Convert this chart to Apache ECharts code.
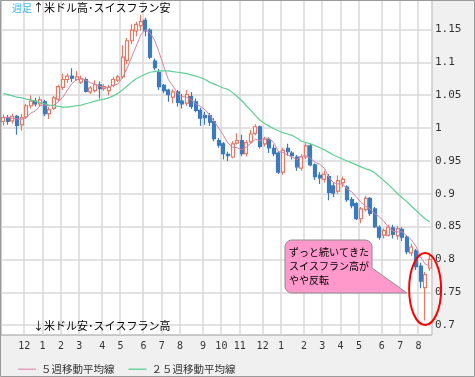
<!DOCTYPE html>
<html><head><meta charset="utf-8">
<script src="https://cdn.jsdelivr.net/npm/echarts@6/dist/echarts.min.js"></script>
<style>html,body{margin:0;padding:0;background:#f0f0f0}#c{width:475px;height:377px}</style>
</head><body><div id="c"></div>
<script>
const weeks = [
'2009-11-02','2009-11-09','2009-11-16','2009-11-23','2009-11-30','2009-12-07','2009-12-14','2009-12-21','2009-12-28',
'2010-01-04','2010-01-11','2010-01-18','2010-01-25','2010-02-01','2010-02-08','2010-02-15','2010-02-22',
'2010-03-01','2010-03-08','2010-03-15','2010-03-22','2010-03-29','2010-04-05','2010-04-12','2010-04-19','2010-04-26',
'2010-05-03','2010-05-10','2010-05-17','2010-05-24','2010-05-31','2010-06-07','2010-06-14','2010-06-21','2010-06-28',
'2010-07-05','2010-07-12','2010-07-19','2010-07-26','2010-08-02','2010-08-09','2010-08-16','2010-08-23','2010-08-30',
'2010-09-06','2010-09-13','2010-09-20','2010-09-27','2010-10-04','2010-10-11','2010-10-18','2010-10-25',
'2010-11-01','2010-11-08','2010-11-15','2010-11-22','2010-11-29','2010-12-06','2010-12-13','2010-12-20','2010-12-27',
'2011-01-03','2011-01-10','2011-01-17','2011-01-24','2011-01-31','2011-02-07','2011-02-14','2011-02-21','2011-02-28',
'2011-03-07','2011-03-14','2011-03-21','2011-03-28','2011-04-04','2011-04-11','2011-04-18','2011-04-25',
'2011-05-02','2011-05-09','2011-05-16','2011-05-23','2011-05-30','2011-06-06','2011-06-13','2011-06-20','2011-06-27',
'2011-07-04','2011-07-11','2011-07-18','2011-07-25','2011-08-01','2011-08-08','2011-08-15'];

const opens = [
1.010,1.016,1.011,1.018,1.005,1.017,1.034,1.041,1.037,1.040,
1.022,1.030,1.044,1.062,1.074,1.079,1.074,1.070,1.074,1.055,
1.057,1.066,1.060,1.057,1.065,1.073,1.078,1.103,1.133,1.148,
1.156,1.164,1.149,1.102,1.085,1.065,1.058,1.047,1.055,1.041,
1.038,1.048,1.040,1.027,1.019,1.019,1.010,0.981,0.976,0.960,
0.956,0.977,0.981,0.961,0.979,0.992,1.002,0.976,0.982,0.969,
0.962,0.933,0.969,0.962,0.956,0.939,0.956,0.973,0.944,0.928,
0.922,0.926,0.912,0.904,0.917,0.910,0.891,0.885,0.862,0.876,
0.893,0.877,0.849,0.837,0.837,0.848,0.836,0.846,0.834,0.810,
0.813,0.790,0.757,0.787];
const closes = [
1.016,1.010,1.018,1.004,1.016,1.034,1.041,1.037,1.043,1.022,
1.028,1.046,1.063,1.074,1.079,1.076,1.078,1.075,1.056,1.061,
1.066,1.060,1.063,1.062,1.074,1.078,1.108,1.133,1.149,1.158,
1.162,1.148,1.108,1.092,1.063,1.057,1.051,1.055,1.039,1.037,
1.051,1.033,1.027,1.015,1.016,1.009,0.984,0.974,0.961,0.958,
0.976,0.981,0.961,0.978,0.991,1.002,0.972,0.983,0.970,0.961,
0.933,0.966,0.964,0.958,0.941,0.956,0.973,0.944,0.926,0.924,
0.930,0.902,0.901,0.920,0.922,0.891,0.882,0.862,0.877,0.893,
0.870,0.850,0.834,0.844,0.849,0.838,0.847,0.834,0.812,0.819,
0.789,0.767,0.777,0.800];
const lows = [
1.004,1.005,1.007,0.990,0.996,1.014,1.030,1.033,1.033,1.018,
1.014,1.028,1.040,1.058,1.069,1.070,1.072,1.067,1.054,1.052,
1.054,1.045,1.057,1.050,1.062,1.070,1.075,1.097,1.128,1.140,
1.148,1.140,1.105,1.088,1.058,1.053,1.040,1.038,1.033,1.030,
1.034,1.029,1.024,1.003,1.005,1.003,0.980,0.970,0.952,0.950,
0.954,0.975,0.957,0.957,0.977,0.989,0.969,0.972,0.962,0.957,
0.930,0.929,0.958,0.952,0.935,0.935,0.953,0.942,0.921,0.915,
0.917,0.890,0.895,0.900,0.910,0.888,0.878,0.860,0.855,0.873,
0.866,0.848,0.830,0.832,0.835,0.832,0.830,0.828,0.808,0.805,
0.784,0.756,0.707,0.783];
const highs = [
1.021,1.020,1.022,1.020,1.022,1.037,1.050,1.046,1.048,1.043,
1.032,1.049,1.066,1.083,1.083,1.091,1.087,1.080,1.077,1.064,
1.073,1.071,1.067,1.066,1.078,1.081,1.126,1.137,1.158,1.162,
1.172,1.168,1.152,1.106,1.090,1.067,1.060,1.059,1.058,1.052,
1.058,1.055,1.045,1.031,1.025,1.023,1.015,0.985,0.979,0.964,
0.980,0.992,0.990,0.982,0.997,1.006,1.004,0.987,0.986,0.975,
0.965,0.970,0.976,0.965,0.959,0.960,0.977,0.976,0.946,0.933,
0.935,0.930,0.917,0.928,0.926,0.913,0.895,0.887,0.880,0.897,
0.895,0.880,0.852,0.847,0.853,0.853,0.851,0.849,0.837,0.824,
0.816,0.795,0.781,0.808];
const ma5 = [
1.017,1.016,1.015,1.014,1.013,1.016,1.023,1.026,1.034,1.035,
1.034,1.035,1.040,1.047,1.058,1.068,1.074,1.076,1.073,1.069,
1.067,1.064,1.061,1.062,1.065,1.067,1.077,1.091,1.108,1.125,
1.142,1.150,1.145,1.134,1.115,1.094,1.074,1.064,1.053,1.048,
1.047,1.043,1.037,1.033,1.028,1.020,1.010,1.000,0.989,0.977,
0.971,0.970,0.967,0.971,0.977,0.983,0.981,0.985,0.984,0.978,
0.964,0.963,0.959,0.956,0.952,0.957,0.958,0.954,0.948,0.945,
0.939,0.925,0.917,0.915,0.915,0.907,0.903,0.895,0.887,0.881,
0.877,0.870,0.865,0.858,0.849,0.843,0.842,0.842,0.836,0.830,
0.820,0.804,0.793,0.790];
const ma25 = [
1.053,1.051,1.049,1.047,1.046,1.044,1.043,1.041,1.039,1.037,
1.035,1.034,1.033,1.032,1.032,1.033,1.034,1.035,1.037,1.039,
1.041,1.043,1.044,1.046,1.049,1.053,1.058,1.064,1.070,1.075,
1.079,1.082,1.085,1.086,1.087,1.087,1.087,1.086,1.085,1.084,
1.083,1.081,1.079,1.077,1.074,1.070,1.067,1.064,1.061,1.059,
1.054,1.048,1.042,1.034,1.027,1.019,1.012,1.007,1.003,0.999,
0.996,0.993,0.991,0.989,0.985,0.980,0.978,0.976,0.973,0.970,
0.967,0.963,0.959,0.956,0.953,0.950,0.947,0.944,0.941,0.938,
0.936,0.932,0.926,0.920,0.914,0.907,0.900,0.894,0.888,0.881,
0.875,0.868,0.862,0.857];
const yTicks = [0.7,0.75,0.8,0.85,0.9,0.95,1,1.05,1.1,1.15];
const seriesNames = ['５週移動平均線','２５週移動平均線'];
const topNote = '↑米ドル高･スイスフラン安';
const bottomNote = '↓米ドル安･スイスフラン高';
const periodNote = '週足';
const calloutText = 'ずっと続いてきた\nスイスフラン高が\nやや反転';

const chart = echarts.init(document.getElementById('c'), null, {renderer:'canvas'});
const candleData = weeks.map((w,i)=>[opens[i],closes[i],lows[i],highs[i]]);
const isMonthStart = (i) => i>0 && parseInt(weeks[i].slice(8,10),10) <= 7;
const jp = '"Noto Sans CJK JP", sans-serif';

const option = {
  animation:false,
  backgroundColor:'#f0f0f0',
  textStyle:{fontFamily:'"DejaVu Sans", sans-serif'},
  grid:{left:1,right:43,top:0,bottom:42,show:true,backgroundColor:'#ffffff',borderColor:'#9a9a9a',borderWidth:1},
  xAxis:{type:'category',data:weeks,boundaryGap:true,
    axisLine:{show:false},axisTick:{show:false},
    axisLabel:{interval:(i)=>isMonthStart(i),formatter:(v)=>String(parseInt(v.slice(5,7),10)),
      fontFamily:'"DejaVu Sans Mono", monospace',fontSize:10,color:'#333',margin:6,padding:[0,4,0,0]},
    splitLine:{show:true,interval:(i)=>isMonthStart(i),lineStyle:{color:'#d9d9d9',width:1.5}}},
  yAxis:{type:'value',position:'right',min:0.685,max:1.195,
    axisLine:{show:false},axisTick:{show:false,customValues:yTicks},
    axisLabel:{customValues:yTicks,fontFamily:'"DejaVu Sans Mono", monospace',fontSize:11,color:'#333',margin:3},
    splitLine:{show:true,lineStyle:{color:'#d9d9d9',width:1.5}}},
  legend:{data:seriesNames,left:13,top:359,icon:'rect',itemWidth:18,itemHeight:1.5,itemGap:14,
    textStyle:{fontFamily:jp,fontSize:10.5,color:'#333'}},
  series:[
    {type:'candlestick',name:'USDCHF',data:candleData,barWidth:3.5,
      itemStyle:{color:'#ffffff',color0:'#3b7bbd',borderColor:'#e27a64',borderColor0:'#3b7bbd',borderWidth:1.2}},
    {type:'line',name:seriesNames[0],data:ma5,symbol:'none',smooth:false,
      lineStyle:{color:'#d384a6',width:1},itemStyle:{color:'#e3a2bd'}},
    {type:'line',name:seriesNames[1],data:ma25,symbol:'none',smooth:false,
      lineStyle:{color:'#5fcf97',width:1.2},itemStyle:{color:'#6fd3a3'}}
  ]
};
chart.setOption(option);

function calloutPoints(x,y,w,h,r,tail){
  const pts=[];
  const arc=(cx,cy,a0,a1)=>{for(let a=a0;a<=a1;a+=15){const t=a*Math.PI/180;pts.push([cx+r*Math.cos(t),cy+r*Math.sin(t)]);}};
  arc(x+r,y+r,180,270);
  arc(x+w-r,y+r,270,360);
  pts.push([x+w,tail[0][1]]);
  pts.push(tail[1]);
  pts.push([tail[2][0],y+h]);
  arc(x+r,y+h-r,90,180);
  return pts;
}
const ell = chart.convertToPixel({xAxisIndex:0,yAxisIndex:0},[92,0.755]);
chart.setOption({graphic:[
  {type:'rect',shape:{x:0.5,y:0.5,width:474,height:376},style:{fill:'none',stroke:'#9a9a9a',lineWidth:1},z:100},
  {type:'text',x:12,y:8,style:{text:periodNote,fill:'#3cb8ec',font:'10px '+jp,verticalAlign:'middle'},z:100},
  {type:'text',x:33,y:8,style:{text:topNote,fill:'#000',font:'11px '+jp,verticalAlign:'middle'},z:100},
  {type:'text',x:33,y:326,style:{text:bottomNote,fill:'#000',font:'11px '+jp,verticalAlign:'middle'},z:100},
  {type:'polygon',shape:{points:calloutPoints(285,240,87,53,7,[[372,268],[407,293],[361,293]])},
    style:{fill:'#ff99cc',stroke:'#8c8c8c',lineWidth:1},z:100},
  {type:'text',x:289,y:245,style:{text:calloutText,fill:'#000',font:'10px '+jp,lineHeight:14,verticalAlign:'top'},z:101},
  {type:'ellipse',shape:{cx:ell[0],cy:ell[1],rx:16,ry:36},style:{fill:'none',stroke:'#ff0000',lineWidth:2},z:102}
]});
</script></body></html>
